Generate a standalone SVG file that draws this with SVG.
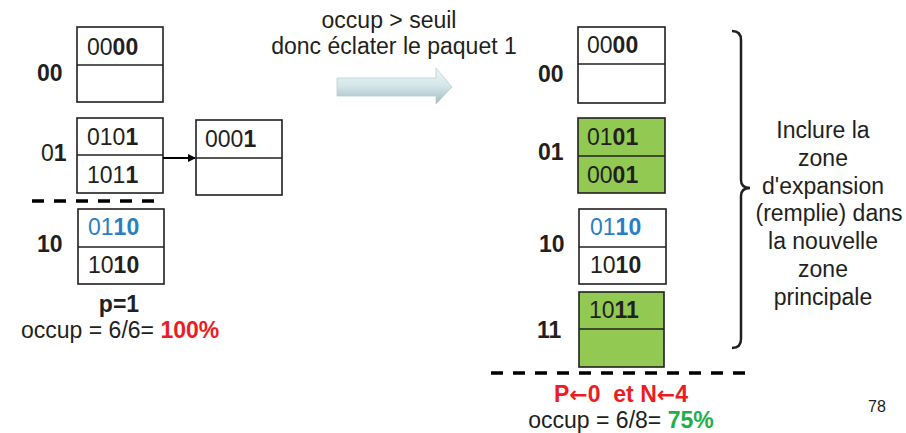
<svg xmlns="http://www.w3.org/2000/svg" width="906" height="433" viewBox="0 0 906 433">
<defs>
<linearGradient id="arrowGrad" x1="0" y1="0" x2="0" y2="1">
<stop offset="0" stop-color="#eef7f8"/>
<stop offset="0.5" stop-color="#d3e6e9"/>
<stop offset="1" stop-color="#9fb9be"/>
</linearGradient>
<marker id="ah" markerWidth="8" markerHeight="8" refX="7" refY="4" orient="auto" markerUnits="userSpaceOnUse">
<path d="M0,0 L8,4 L0,8 Z" fill="#000"/>
</marker>
<style>
text{font-family:"Liberation Sans",Arial,sans-serif;font-size:23px;fill:#231f20}
.b{font-weight:bold}
.box{fill:#fff;stroke:#231f20;stroke-width:1.6}
.green{fill:#92c952;stroke:#231f20;stroke-width:1.6}
.div{stroke:#231f20;stroke-width:1.6}
.dash{stroke:#000;stroke-width:3.5;stroke-dasharray:12 10;fill:none}
.blue{fill:#2a7fc4}
.red{fill:#ed1c24;font-weight:bold}
.grn{fill:#1fae4b;font-weight:bold}
.mid{text-anchor:middle}
.arr{font-family:"DejaVu Sans",sans-serif;font-size:22px;font-weight:bold}
</style>
</defs>

<!-- Left side -->
<g id="left-00">
<rect class="box" x="77" y="27" width="86" height="75"/>
<line class="div" x1="77" y1="65" x2="163" y2="65"/>
<text x="87" y="55">00<tspan class="b">00</tspan></text>
<text class="b" x="37" y="81">00</text>
</g>
<g id="left-01">
<rect class="box" x="77" y="118" width="86" height="75"/>
<line class="div" x1="77" y1="155" x2="163" y2="155"/>
<text x="87" y="145">010<tspan class="b">1</tspan></text>
<text x="87" y="183">101<tspan class="b">1</tspan></text>
<text x="41" y="161">0<tspan class="b">1</tspan></text>
</g>
<g id="left-overflow">
<rect class="box" x="196" y="120" width="86" height="75"/>
<line class="div" x1="196" y1="158" x2="282" y2="158"/>
<text x="205" y="147">000<tspan class="b">1</tspan></text>
</g>
<g id="left-10">
<rect class="box" x="78" y="209" width="86" height="75"/>
<line class="div" x1="78" y1="247" x2="164" y2="247"/>
<text x="88" y="235" class="blue">01<tspan class="b blue">10</tspan></text>
<text x="88" y="273">10<tspan class="b">10</tspan></text>
<text class="b" x="37" y="252">10</text>
</g>
<g id="left-caption">
<text class="b mid" x="119" y="312">p=1</text>
<text x="21" y="338">occup = 6/6= <tspan class="red">100%</tspan></text>
</g>

<!-- Middle -->
<g id="middle">
<text class="mid" x="389" y="28">occup &gt; seuil</text>
<text class="mid" x="394" y="54">donc éclater le paquet 1</text>
<path d="M337,78 L436,78 L436,68 L452,87 L436,104 L436,96 L337,96 Z" fill="url(#arrowGrad)" stroke="#b9cfd2" stroke-width="0.8"/>
</g>

<!-- Right side -->
<g id="right-00">
<rect class="box" x="578" y="27" width="87" height="76"/>
<line class="div" x1="578" y1="64" x2="665" y2="64"/>
<text x="587" y="53">00<tspan class="b">00</tspan></text>
<text class="b" x="538" y="82">00</text>
</g>
<g id="right-01">
<rect class="green" x="578" y="118" width="87" height="75"/>
<line class="div" x1="578" y1="156" x2="665" y2="156"/>
<text x="587" y="145">01<tspan class="b">01</tspan></text>
<text x="587" y="183">00<tspan class="b">01</tspan></text>
<text class="b" x="538" y="160">01</text>
</g>
<g id="right-10">
<rect class="box" x="579" y="209" width="87" height="75"/>
<line class="div" x1="579" y1="247" x2="666" y2="247"/>
<text x="590" y="235" class="blue">01<tspan class="b blue">10</tspan></text>
<text x="590" y="273">10<tspan class="b">10</tspan></text>
<text class="b" x="539" y="252">10</text>
</g>
<g id="right-11">
<rect class="green" x="579" y="292" width="85" height="75"/>
<line class="div" x1="579" y1="329" x2="664" y2="329"/>
<text x="589" y="318">10<tspan class="b">11</tspan></text>
<text class="b" x="537" y="338">11</text>
</g>
<g id="right-caption">
<text class="red mid" x="621" y="402" style="white-space:pre">P<tspan class="arr red">←</tspan>0  et N<tspan class="arr red">←</tspan>4</text>
<text class="mid" x="621" y="428">occup = 6/8= <tspan class="grn">75%</tspan></text>
</g>

<g id="brace-note">
<path d="M732,31 Q741,31 741,40 L741,180 Q741,188 750,188 Q741,188 741,196 L741,339 Q741,348 732,348" fill="none" stroke="#231f20" stroke-width="2.5"/>
<text class="mid" x="823" y="138">Inclure la</text>
<text class="mid" x="823" y="166">zone</text>
<text class="mid" x="823" y="194">d'expansion</text>
<text class="mid" x="829" y="221">(remplie) dans</text>
<text class="mid" x="823" y="249">la nouvelle</text>
<text class="mid" x="823" y="277">zone</text>
<text class="mid" x="823" y="305">principale</text>
</g>

<text x="868" y="412" style="font-size:16px">78</text>

<!-- Connectors -->
<g id="connectors">
<line x1="163" y1="158" x2="195" y2="158" stroke="#000" stroke-width="2" marker-end="url(#ah)"/>
<line class="dash" x1="32" y1="201" x2="160" y2="201"/>
<line class="dash" x1="491" y1="373" x2="755" y2="373"/>
</g>
</svg>
